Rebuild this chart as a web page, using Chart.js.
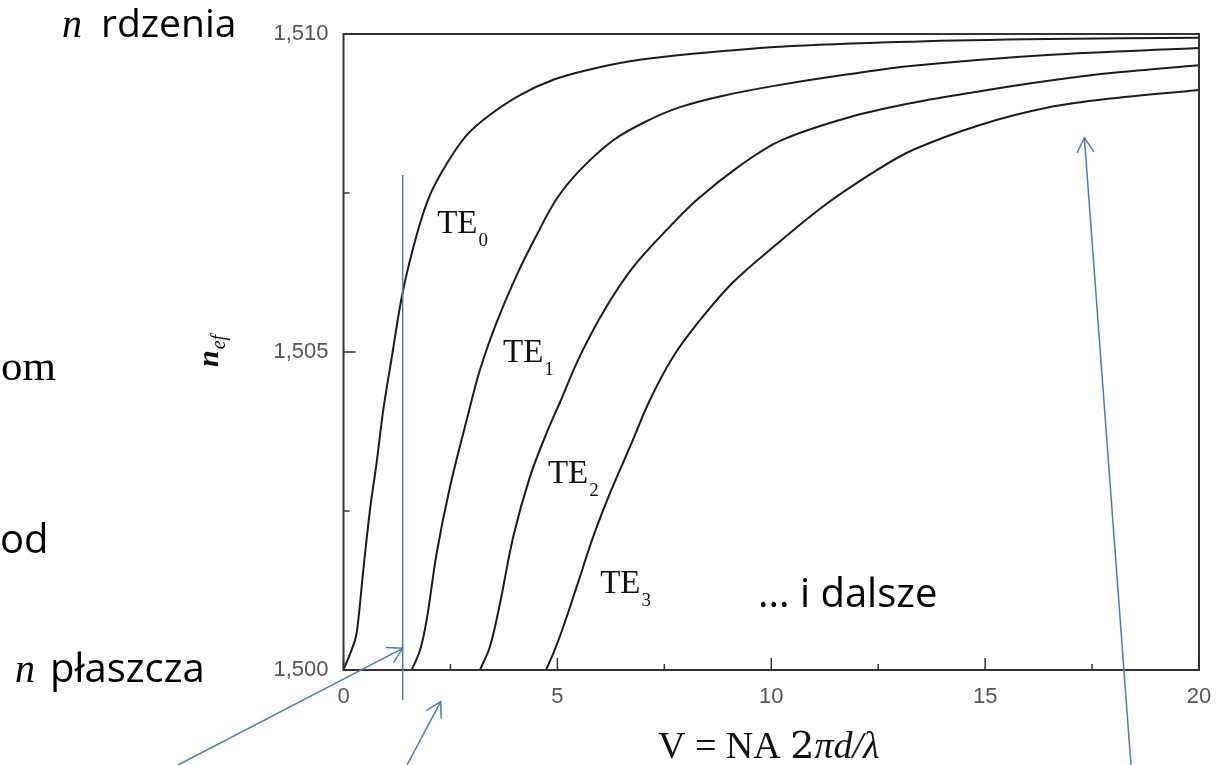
<!DOCTYPE html>
<html>
<head>
<meta charset="utf-8">
<script src="https://cdn.jsdelivr.net/npm/chart.js@4.4.1/dist/chart.umd.min.js"></script>
<style>
  html, body { margin: 0; padding: 0; background: #fff; }
  canvas { display: block; }
</style>
</head>
<body>
<canvas id="wykres" width="1228" height="765"></canvas>
<script>
// dane: V -> n_ef dla kolejnych modow
const te0V = [0, 0.269, 0.346, 0.463, 0.620, 0.776, 0.930, 1.127, 1.384, 1.711, 2.022, 2.413, 2.880, 3.425, 4.126, 4.905, 5.686, 6.698, 7.867, 10.205, 13.314, 16.447, 20];
const te0N = [1.50000, 1.50047, 1.50079, 1.50157, 1.50252, 1.50327, 1.50409, 1.50491, 1.50594, 1.50684, 1.50747, 1.50796, 1.50841, 1.50873, 1.50904, 1.50928, 1.50943, 1.50957, 1.50967, 1.50980, 1.50988, 1.50992, 1.50994];

const te1V = [1.594, 1.788, 1.945, 2.179, 2.490, 2.880, 3.191, 3.582, 4.049, 4.517, 4.984, 5.529, 6.307, 7.088, 7.867, 8.879, 10.205, 11.841, 13.314, 16.447, 20];
const te1N = [1.50000, 1.50031, 1.50079, 1.50184, 1.50288, 1.50393, 1.50472, 1.50547, 1.50621, 1.50684, 1.50741, 1.50786, 1.50833, 1.50863, 1.50885, 1.50903, 1.50920, 1.50937, 1.50950, 1.50967, 1.50978];

const te2V = [3.191, 3.425, 3.659, 3.970, 4.360, 4.750, 5.061, 5.529, 6.153, 6.775, 7.556, 8.257, 9.270, 10.205, 11.764, 13.321, 14.880, 16.439, 17.997, 20];
const te2N = [1.50000, 1.50037, 1.50105, 1.50210, 1.50304, 1.50373, 1.50421, 1.50494, 1.50572, 1.50634, 1.50692, 1.50739, 1.50793, 1.50832, 1.50868, 1.50892, 1.50910, 1.50926, 1.50939, 1.50951];

const te3V = [4.734, 4.905, 5.139, 5.452, 5.840, 6.230, 6.698, 7.166, 7.710, 8.334, 9.113, 10.048, 11.296, 12.543, 13.321, 14.880, 16.439, 17.997, 20];
const te3N = [1.50000, 1.50026, 1.50068, 1.50131, 1.50210, 1.50278, 1.50351, 1.50425, 1.50493, 1.50550, 1.50610, 1.50665, 1.50733, 1.50789, 1.50818, 1.50857, 1.50884, 1.50899, 1.50912];

const modNames = ['TE', 'TE', 'TE', 'TE'];
const modIdx = ['0', '1', '2', '3'];

const xTickValues = [0, 5, 10, 15, 20];
const xTickLabels = ['0', '5', '10', '15', '20'];
const xMinor = [2.5, 7.5, 12.5, 17.5];
const yTickValues = [1.500, 1.505, 1.510];
const yTickLabels = ['1,500', '1,505', '1,510'];
const yMinor = [1.5025, 1.5075];

const zip = (xs, ys) => xs.map((v, i) => ({ x: v, y: ys[i] }));

const ciemny = '#1c1c1c';
const niebieski = '#4a7ebb';

function strzalka(ctx, x1, y1, x2, y2) {
  ctx.beginPath();
  ctx.moveTo(x1, y1);
  ctx.lineTo(x2, y2);
  const a = Math.atan2(y1 - y2, x1 - x2);
  const d = 17;
  ctx.moveTo(x2 + d * Math.cos(a + 0.52), y2 + d * Math.sin(a + 0.52));
  ctx.lineTo(x2, y2);
  ctx.lineTo(x2 + d * Math.cos(a - 0.52), y2 + d * Math.sin(a - 0.52));
  ctx.stroke();
}

// ramka, znaczniki do srodka, opisy i niebieskie strzalki
const dodatki = {
  id: 'dodatki',
  afterDraw(chart) {
    const ctx = chart.ctx;
    const ca = chart.chartArea;
    const xs = chart.scales.x;
    const ys = chart.scales.y;
    ctx.save();

    ctx.strokeStyle = '#333';
    ctx.lineWidth = 2;
    ctx.strokeRect(ca.left, ca.top, ca.right - ca.left, ca.bottom - ca.top);

    ctx.lineWidth = 1.5;
    ctx.beginPath();
    xTickValues.forEach(v => { const p = xs.getPixelForValue(v); ctx.moveTo(p, ca.bottom); ctx.lineTo(p, ca.bottom - 12); });
    xMinor.forEach(v => { const p = xs.getPixelForValue(v); ctx.moveTo(p, ca.bottom); ctx.lineTo(p, ca.bottom - 6); });
    yTickValues.forEach(v => { const p = ys.getPixelForValue(v); ctx.moveTo(ca.left, p); ctx.lineTo(ca.left + 12, p); });
    yMinor.forEach(v => { const p = ys.getPixelForValue(v); ctx.moveTo(ca.left, p); ctx.lineTo(ca.left + 6, p); });
    ctx.stroke();

    // etykiety modow
    const opisV = [2.19, 3.73, 4.78, 6.00];
    const opisN = [1.50687, 1.50484, 1.50294, 1.50121];
    ctx.fillStyle = '#111';
    ctx.textBaseline = 'alphabetic';
    opisV.forEach((v, i) => {
      const px = xs.getPixelForValue(v);
      const py = ys.getPixelForValue(opisN[i]);
      ctx.font = '33px "Liberation Serif"';
      ctx.fillText(modNames[i], px, py);
      const w = ctx.measureText(modNames[i]).width;
      ctx.font = '19px "Liberation Serif"';
      ctx.fillText(modIdx[i], px + w + 1, py + 13);
    });

    // tytul osi y: n_ef
    ctx.save();
    ctx.translate(218, 367);
    ctx.rotate(-Math.PI / 2);
    ctx.font = 'italic bold 30px "Liberation Serif"';
    ctx.fillText('n', 0, 0);
    const nw = ctx.measureText('n').width;
    ctx.font = 'italic 20px "Liberation Serif"';
    ctx.fillText('ef', nw + 1, 7);
    ctx.restore();

    // tytul osi x
    let tx = 658;
    const ty = 758;
    const czesci = [
      ['V = NA ', '38px "Liberation Serif"'],
      ['2', '38px "DejaVu Serif"'],
      ['\u03c0d/\u03bb', 'italic 38px "Liberation Serif"']
    ];
    czesci.forEach(([t, f]) => {
      ctx.font = f;
      ctx.fillText(t, tx, ty);
      tx += ctx.measureText(t).width;
    });

    // napisy ze slajdu
    ctx.fillStyle = '#000';
    ctx.font = 'italic 40px "Liberation Serif"';
    ctx.fillText('n', 62, 37);
    ctx.fillText('n', 15, 682);
    ctx.font = '39px "Open Sans"';
    ctx.fillText('rdzenia', 101, 37);
    ctx.font = '40px "Open Sans"';
    ctx.fillText('p\u0142aszcza', 50, 682);
    ctx.fillText('od', 0, 553);
    ctx.fillText('... i dalsze', 758, 607);
    ctx.font = '43px "Liberation Serif"';
    ctx.textAlign = 'right';
    ctx.fillText('eom', 56, 380);
    ctx.textAlign = 'left';

    // niebieskie adnotacje (w jednostkach osi)
    ctx.strokeStyle = niebieski;
    ctx.lineWidth = 1.5;
    const lx = xs.getPixelForValue(1.384);
    ctx.beginPath();
    ctx.moveTo(lx, ys.getPixelForValue(1.507783));
    ctx.lineTo(lx, ys.getPixelForValue(1.499528));
    ctx.stroke();
    const strzalki = [
      [-3.869, 1.498506, 1.384, 1.500341],
      [1.485, 1.498506, 2.272, 1.499502],
      [18.41, 1.498506, 17.32, 1.508370]
    ];
    strzalki.forEach(s => {
      strzalka(ctx,
        xs.getPixelForValue(s[0]), ys.getPixelForValue(s[1]),
        xs.getPixelForValue(s[2]), ys.getPixelForValue(s[3]));
    });

    ctx.restore();
  }
};

const krzywa = (dane) => ({
  data: dane,
  borderColor: ciemny,
  borderWidth: 2,
  pointRadius: 0,
  fill: false,
  tension: 0.35
});

new Chart(document.getElementById('wykres'), {
  type: 'line',
  data: {
    datasets: [
      krzywa(zip(te0V, te0N)),
      krzywa(zip(te1V, te1N)),
      krzywa(zip(te2V, te2N)),
      krzywa(zip(te3V, te3N))
    ]
  },
  options: {
    responsive: false,
    animation: false,
    devicePixelRatio: 1,
    layout: { padding: { left: 0, right: 29, top: 34, bottom: 0 } },
    plugins: { legend: { display: false }, tooltip: { enabled: false } },
    scales: {
      x: {
        type: 'linear',
        min: 0,
        max: 20,
        grid: { display: false, drawTicks: false },
        border: { display: false },
        afterBuildTicks: (s) => { s.ticks = xTickValues.map(v => ({ value: v })); },
        afterFit: (s) => { s.height = 95; },
        ticks: {
          padding: 14,
          color: '#555',
          font: { family: '"Liberation Sans", Arial', size: 22 },
          maxRotation: 0,
          callback: (v, i) => xTickLabels[i]
        }
      },
      y: {
        min: 1.500,
        max: 1.510,
        grid: { display: false, drawTicks: false },
        border: { display: false },
        afterBuildTicks: (s) => { s.ticks = yTickValues.map(v => ({ value: v })); },
        afterFit: (s) => { s.width = 343.5; },
        ticks: {
          padding: 15,
          color: '#555',
          font: { family: '"Liberation Sans", Arial', size: 22 },
          callback: (v, i) => yTickLabels[i]
        }
      }
    }
  },
  plugins: [dodatki]
});
</script>
</body>
</html>
